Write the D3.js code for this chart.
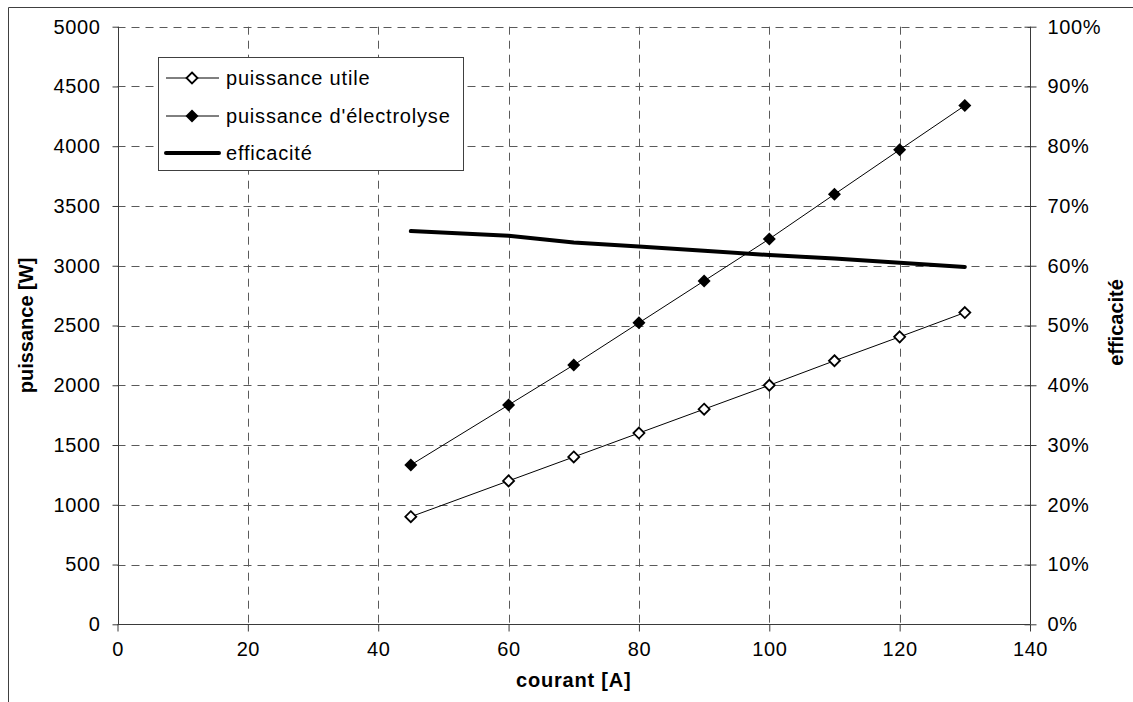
<!DOCTYPE html>
<html>
<head>
<meta charset="utf-8">
<script src="https://cdn.jsdelivr.net/npm/d3@7"></script>
<style>
  body { margin: 0; background: #fff; }
  svg { display: block; font-family: "Liberation Sans", Arial, sans-serif; }
</style>
</head>
<body>
<svg id="root"></svg>
<script>
// Puissance utile / électrolyse vs courant, with efficiency on a second axis

const courant = [45, 60, 70, 80, 90, 100, 110, 120, 130];
const puissanceUtile = [900, 1200, 1400, 1600, 1800, 2000, 2205, 2405, 2608];
const puissanceElectrolyse = [1333, 1835, 2170, 2522, 2873, 3224, 3598, 3970, 4340];
const efficacite = [0.658, 0.650, 0.639, 0.632, 0.625, 0.618, 0.612, 0.605, 0.598];

const xTicks = [0, 20, 40, 60, 80, 100, 120, 140];
const yTicks = [0, 500, 1000, 1500, 2000, 2500, 3000, 3500, 4000, 4500, 5000];
const y2Ticks = [0, 0.1, 0.2, 0.3, 0.4, 0.5, 0.6, 0.7, 0.8, 0.9, 1];

const legendLabels = ["puissance utile", "puissance d'électrolyse", "efficacité"];

const width = 1133,
  height = 702;
const plot = { left: 117.5, right: 1030, top: 26.7, bottom: 624.3 };

const svg = d3.select("#root").attr("width", width).attr("height", height);

const xScale = d3.scaleLinear([0, 140], [plot.left, plot.right]);
const yScale = d3.scaleLinear([0, 5000], [plot.bottom, plot.top]);
const y2Scale = d3.scaleLinear([0, 1], [plot.bottom, plot.top]);

const axisColor = "#3a3a3a";
const gridColor = "#5a5a5a";

// Outer frame (cut on the right and bottom)
svg.append("path")
  .attr("d", `M8.5,${height} V7.5 H${width}`)
  .attr("fill", "none")
  .attr("stroke", "#404040")
  .attr("stroke-width", 1);

// Grid
const grid = svg.append("g").attr("stroke", gridColor).attr("stroke-dasharray", "8,6");
grid.selectAll(".hgrid")
  .data(yTicks.filter((d) => d > 0))
  .join("line")
  .attr("x1", plot.left)
  .attr("x2", plot.right)
  .attr("y1", (d) => Math.round(yScale(d)) + 0.5)
  .attr("y2", (d) => Math.round(yScale(d)) + 0.5);
grid.selectAll(".vgrid")
  .data(xTicks.filter((d) => d > 0 && d < 140))
  .join("line")
  .attr("x1", (d) => Math.round(xScale(d)) + 0.5)
  .attr("x2", (d) => Math.round(xScale(d)) + 0.5)
  .attr("y1", plot.top)
  .attr("y2", plot.bottom);

// Axes
const fontSize = 20;
const xAxis = d3.axisBottom(xScale).tickValues(xTicks).tickSize(7).tickPadding(10)
  .tickFormat(d3.format("d"));
const yAxis = d3.axisLeft(yScale).tickValues(yTicks).tickSize(6).tickPadding(12)
  .tickFormat(d3.format("d"));
const y2Axis = d3.axisRight(y2Scale).tickValues(y2Ticks).tickSize(6).tickPadding(11)
  .tickFormat(d3.format(".0%"));

function styleAxis(g) {
  g.select(".domain").attr("stroke", axisColor);
  g.selectAll(".tick line").attr("stroke", axisColor);
  g.selectAll(".tick text")
    .attr("fill", "#000")
    .attr("font-size", fontSize)
    .attr("letter-spacing", 0.6)
    .attr("font-family", "Liberation Sans, Arial, sans-serif");
}

svg.append("g")
  .attr("transform", `translate(0,${Math.round(plot.bottom) + 0.5})`)
  .call(xAxis)
  .call((g) => g.select(".domain").attr("d", `M${plot.left},0H${plot.right}`))
  .call(styleAxis);

svg.append("g")
  .attr("transform", `translate(${Math.round(plot.left) + 0.5},0)`)
  .call(yAxis)
  .call((g) => g.select(".domain").attr("d", `M0,${plot.top}V${plot.bottom}`))
  .call(styleAxis);

svg.append("g")
  .attr("transform", `translate(${Math.round(plot.right) + 0.5},0)`)
  .call(y2Axis)
  .call((g) => g.select(".domain").attr("d", `M0,${plot.top}V${plot.bottom}`))
  .call((g) => g.selectAll(".tick line").attr("x1", -6))
  .call(styleAxis);

// Axis titles
svg.append("text")
  .attr("x", (plot.left + plot.right) / 2)
  .attr("y", 687)
  .attr("text-anchor", "middle")
  .attr("font-size", fontSize)
  .attr("font-weight", "bold")
  .attr("letter-spacing", 0.8)
  .text("courant [A]");

svg.append("text")
  .attr("transform", `translate(33,${(plot.top + plot.bottom) / 2}) rotate(-90)`)
  .attr("text-anchor", "middle")
  .attr("font-size", fontSize)
  .attr("font-weight", "bold")
  .text("puissance [W]");

svg.append("text")
  .attr("transform", `translate(1123,${(plot.top + plot.bottom) / 2 - 3}) rotate(-90)`)
  .attr("text-anchor", "middle")
  .attr("font-size", fontSize)
  .attr("font-weight", "bold")
  .text("efficacité");

// Series
const diamond = "M0,-6.5L6.5,0L0,6.5L-6.5,0Z";
const hollowDiamond = "M0,-5.5L5.5,0L0,5.5L-5.5,0Z";
const line = d3.line().x((d) => xScale(d[0])).y((d) => yScale(d[1]));
const effLine = d3.line().x((d) => xScale(d[0])).y((d) => y2Scale(d[1]));

svg.append("path")
  .datum(d3.zip(courant, efficacite))
  .attr("fill", "none")
  .attr("stroke", "#000")
  .attr("stroke-width", 4)
  .attr("stroke-linecap", "round")
  .attr("stroke-linejoin", "round")
  .attr("d", effLine);

svg.append("path")
  .datum(d3.zip(courant, puissanceElectrolyse))
  .attr("fill", "none")
  .attr("stroke", "#000")
  .attr("stroke-width", 1)
  .attr("d", line);

svg.append("path")
  .datum(d3.zip(courant, puissanceUtile))
  .attr("fill", "none")
  .attr("stroke", "#000")
  .attr("stroke-width", 1)
  .attr("d", line);

svg.selectAll(".elec")
  .data(d3.zip(courant, puissanceElectrolyse))
  .join("path")
  .attr("transform", (d) => `translate(${xScale(d[0])},${yScale(d[1])})`)
  .attr("d", diamond)
  .attr("fill", "#000");

svg.selectAll(".utile")
  .data(d3.zip(courant, puissanceUtile))
  .join("path")
  .attr("transform", (d) => `translate(${xScale(d[0])},${yScale(d[1])})`)
  .attr("d", hollowDiamond)
  .attr("fill", "#fff")
  .attr("stroke", "#000")
  .attr("stroke-width", 1.8);

// Legend
const legend = svg.append("g");
legend.append("rect")
  .attr("x", 158.5)
  .attr("y", 57.5)
  .attr("width", 305)
  .attr("height", 113)
  .attr("fill", "#fff")
  .attr("stroke", "#404040");

const rowY = [78, 116, 153];
legendLabels.forEach((label, i) => {
  const y = rowY[i];
  legend.append("line")
    .attr("x1", 166)
    .attr("x2", 219)
    .attr("y1", y)
    .attr("y2", y)
    .attr("stroke", "#000")
    .attr("stroke-width", i === 2 ? 4 : 1)
    .attr("stroke-linecap", i === 2 ? "round" : "butt");
  if (i === 0) {
    legend.append("path")
      .attr("transform", `translate(192,${y})`)
      .attr("d", hollowDiamond)
      .attr("fill", "#fff")
      .attr("stroke", "#000")
      .attr("stroke-width", 1.8);
  } else if (i === 1) {
    legend.append("path")
      .attr("transform", `translate(192,${y})`)
      .attr("d", diamond)
      .attr("fill", "#000");
  }
  legend.append("text")
    .attr("x", 226)
    .attr("y", y + 7)
    .attr("font-size", fontSize)
    .attr("letter-spacing", 0.8)
    .text(label);
});
</script>
</body>
</html>
